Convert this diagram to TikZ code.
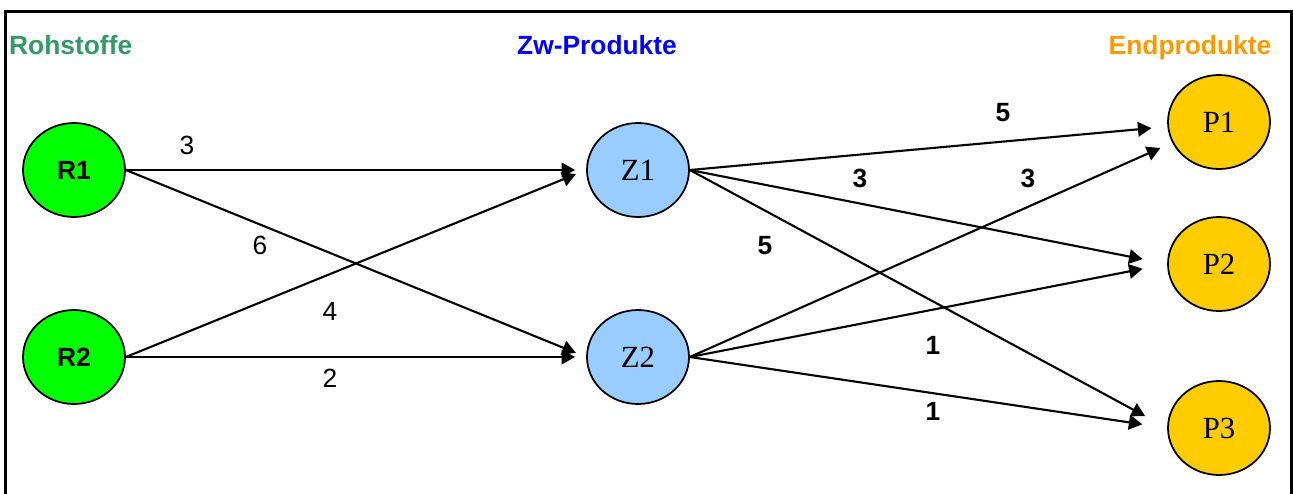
\documentclass[tikz,border=0pt]{standalone}
\usepackage{fontspec}
\setmainfont{Liberation Sans}
\newfontfamily\timesfont{Liberation Serif}
\usetikzlibrary{arrows.meta,shapes.geometric}
\definecolor{rohgreen}{HTML}{339966}
\definecolor{zwblue}{HTML}{0000FF}
\definecolor{endorange}{HTML}{FF9900}
\definecolor{rfill}{HTML}{00FF00}
\definecolor{zfill}{HTML}{99CCFF}
\definecolor{pfill}{HTML}{FFCC00}

\begin{document}
\begin{tikzpicture}
		\useasboundingbox (0,0) rectangle (25.86,9.86);
		\draw[line width=0.06cm] (0.11,-0.5) rectangle (25.83,9.626);
		% headings
		\begin{scope}[every node/.style={anchor=base,font=\fontsize{15}{18}\selectfont\bfseries}]
			\node[anchor=base west,text=rohgreen] (hR) at (0.06,8.78) {Rohstoffe};
			\node[text=zwblue] (hZ) at (11.94,8.78) {Zw-Produkte};
			\node[text=endorange] (hP) at (23.8,8.78) {Endprodukte};
		\end{scope}
		\begin{scope}[every node/.style={ellipse,draw,line width=1pt,minimum width=2.04cm,minimum height=1.88cm,inner sep=0pt}]
			\node[fill=rfill,font=\fontsize{15}{18}\selectfont\bfseries] (R1) at (1.48,6.46) {R1};
			\node[fill=rfill,font=\fontsize{15}{18}\selectfont\bfseries] (R2) at (1.48,2.72) {R2};
			\node[fill=zfill,font=\fontsize{17.5}{20}\timesfont] (Z1) at (12.76,6.46) {Z1};
			\node[fill=zfill,font=\fontsize{17.5}{20}\timesfont] (Z2) at (12.76,2.72) {Z2};
			\node[fill=pfill,font=\fontsize{17.5}{20}\timesfont] (P1) at (24.38,7.42) {P1};
			\node[fill=pfill,font=\fontsize{17.5}{20}\timesfont] (P2) at (24.38,4.58) {P2};
			\node[fill=pfill,font=\fontsize{17.5}{20}\timesfont] (P3) at (24.38,1.30) {P3};
		\end{scope}
		\begin{scope}[>={Triangle[length=0.27cm,width=0.29cm]},
			every edge/.style={draw,line width=1.2pt}]
			\path [->] (R1.east) edge[shorten >=0.22cm] (Z1.west);
			\path [->] (R1.east) edge[shorten >=0.22cm] (Z2.west);
			\path [->] (R2.east) edge[shorten >=0.22cm] (Z1.west);
			\path [->] (R2.east) edge[shorten >=0.22cm] (Z2.west);
			\path [->] (Z1.east) edge[shorten >=0.32cm] (P1);
			\path [->] (Z1.east) edge[shorten >=0.5cm] (P2.west);
			\path [->] (Z1.east) edge[shorten >=0.5cm] (P3.west);
			\path [->] (Z2.east) edge[shorten >=0.26cm] (P1);
			\path [->] (Z2.east) edge[shorten >=0.5cm] (P2.west);
			\path [->] (Z2.east) edge[shorten >=0.5cm] (P3.west);
		\end{scope}
		% amounts
		\begin{scope}[every node/.style={anchor=base,font=\fontsize{15}{18}\selectfont}]
			\node (a11) at (3.74,6.78) {3};
			\node (a12) at (5.2,4.78) {6};
			\node (a21) at (6.6,3.46) {4};
			\node (a22) at (6.6,2.12) {2};
		\end{scope}
		\begin{scope}[every node/.style={anchor=base,font=\fontsize{15}{18}\selectfont\bfseries}]
			\node (b11) at (20.06,7.44) {5};
			\node (b12) at (17.2,6.12) {3};
			\node (b13) at (15.3,4.78) {5};
			\node (b21) at (20.56,6.12) {3};
			\node (b22) at (18.66,2.78) {1};
			\node (b23) at (18.66,1.46) {1};
		\end{scope}
	\end{tikzpicture}
\end{document}
